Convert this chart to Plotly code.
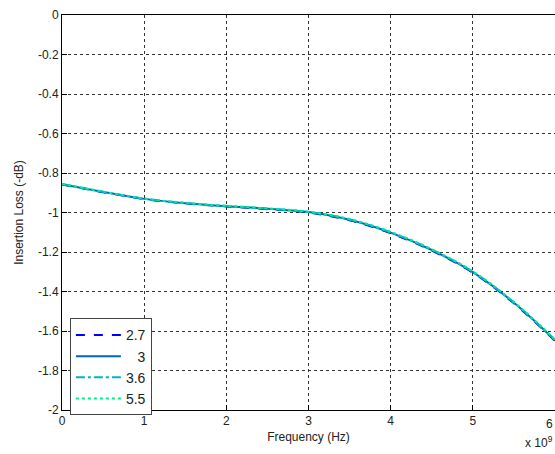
import plotly.graph_objects as go

# Frequency in units of 1e9 Hz
freq = [0, 0.5, 1, 1.5, 2, 2.5, 3, 3.5, 4, 4.5, 5, 5.5, 6]

# Insertion loss (-dB) for each dielectric constant
loss_27 = [-0.858, -0.897, -0.932, -0.954, -0.969, -0.983, -1.000, -1.040, -1.105, -1.193, -1.305, -1.460, -1.650]
loss_3 = [-0.857, -0.896, -0.931, -0.953, -0.968, -0.981, -0.998, -1.037, -1.102, -1.190, -1.302, -1.457, -1.647]
loss_36 = [-0.856, -0.895, -0.930, -0.952, -0.967, -0.980, -0.997, -1.035, -1.100, -1.188, -1.300, -1.455, -1.645]
loss_55 = [-0.855, -0.894, -0.929, -0.951, -0.966, -0.979, -0.996, -1.033, -1.098, -1.186, -1.298, -1.453, -1.643]

# Legend labels are right-aligned with figure/punctuation spaces
series = [
    ("2.7", loss_27, "#0000FF", "dash"),
    ("\u2007\u20083", loss_3, "#0066CC", "solid"),
    ("3.6", loss_36, "#00B4C8", "dashdot"),
    ("5.5", loss_55, "#00EE88", "dot"),
]

x_ticks = [0, 1, 2, 3, 4, 5, 6]
y_ticks = [0, -0.2, -0.4, -0.6, -0.8, -1, -1.2, -1.4, -1.6, -1.8, -2]

fig = go.Figure()
for name, vals, color, dash in series:
    fig.add_trace(go.Scatter(
        x=freq, y=vals, name=name, mode="lines",
        line=dict(color=color, dash=dash, width=2, shape="spline"),
    ))

axis_common = dict(
    showline=True, linecolor="black", linewidth=1, mirror=True,
    showgrid=True, gridcolor="#333333", gridwidth=1, griddash="3px,3px",
    zeroline=False, ticks="inside", ticklen=5, tickcolor="black",
    tickfont=dict(family="Liberation Sans, Arial, sans-serif", size=12, color="#222222"),
)

fig.update_layout(
    width=555, height=454,
    margin=dict(l=62, r=0, t=15, b=44),
    paper_bgcolor="white", plot_bgcolor="white",
    font=dict(family="Liberation Sans, Arial, sans-serif", size=12, color="#222222"),
    xaxis=dict(
        range=[0, 6], tickvals=x_ticks[:-1], ticktext=[str(v) for v in x_ticks[:-1]],
        title=dict(text="Frequency (Hz)", standoff=5,
                   font=dict(size=12)),
        **axis_common,
    ),
    yaxis=dict(
        range=[-2, 0], tickvals=y_ticks,
        ticktext=["0" if v == 0 else f"{v:g}" for v in y_ticks],
        title=dict(text="Insertion Loss (-dB)", standoff=11,
                   font=dict(size=12)),
        **axis_common,
    ),
    legend=dict(
        x=0.016, y=0.232, xanchor="left", yanchor="top",
        bgcolor="white", bordercolor="#444444", borderwidth=1,
        font=dict(size=14, color="#222222"),
        tracegroupgap=0, itemwidth=45,
    ),
    showlegend=True,
    annotations=[
        dict(
            text="x 10<sup>9</sup>", xref="paper", yref="paper",
            x=1.0, y=-0.055, xanchor="right", yanchor="top",
            showarrow=False, font=dict(size=12, color="#222222"),
        ),
        # last x tick label sits at the right edge of the page
        dict(
            text=str(x_ticks[-1]), xref="x", yref="paper",
            x=x_ticks[-1], y=-0.012, xanchor="right", yanchor="top",
            showarrow=False, font=dict(size=12, color="#222222"),
        ),
    ],
)

fig.write_html("out.html")
